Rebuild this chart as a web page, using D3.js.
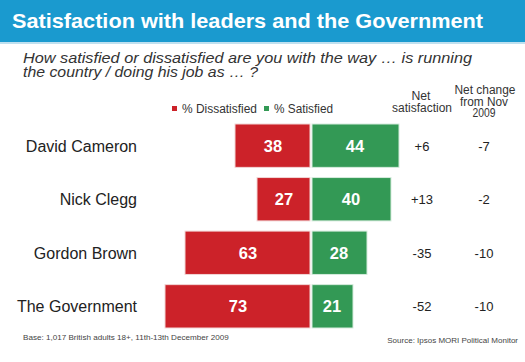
<!DOCTYPE html>
<html>
<head>
<meta charset="utf-8">
<script src="https://cdn.jsdelivr.net/npm/d3@7"></script>
<style>
  body { margin: 0; background: #fff; }
  svg { display: block; font-family: "Liberation Sans", Arial, sans-serif; }
</style>
</head>
<body>
<div id="chart"></div>
<script>
const names = ["David Cameron", "Nick Clegg", "Gordon Brown", "The Government"];
const dissatisfied = [38, 27, 63, 73];
const satisfied = [44, 40, 28, 21];
const netSat = ["+6", "+13", "-35", "-52"];
const netChange = ["-7", "-2", "-10", "-10"];

const width = 525;
const height = 362;
const centre = 311;

const svg = d3.select("#chart").append("svg")
    .attr("width", width)
    .attr("height", height);

// text fitted to the width it has in the original
function fitText(txt, x, y, size, len, anchor) {
  const t = svg.append("text")
      .attr("x", x).attr("y", y)
      .attr("font-size", size)
      .attr("text-anchor", anchor || "start")
      .attr("fill", "#333")
      .text(txt);
  if (len) t.attr("textLength", len).attr("lengthAdjust", "spacingAndGlyphs");
  return t;
}

// title band
svg.append("rect")
    .attr("x", 0).attr("y", 0)
    .attr("width", width).attr("height", 42)
    .attr("fill", "#1a9acf");
svg.append("rect")
    .attr("x", 0).attr("y", 42)
    .attr("width", width).attr("height", 2)
    .attr("fill", "#bfe0ef");
fitText("Satisfaction with leaders and the Government", 12, 28, 21, 471)
    .attr("fill", "#fff")
    .attr("font-weight", "bold");

fitText("How satisfied or dissatisfied are you with the way \u2026  is running", 23, 63, 15.5, 449)
    .attr("font-style", "italic");
fitText("the country / doing his job as \u2026 ?", 23, 77, 15.5, 235)
    .attr("font-style", "italic");

// legend
const legend = [["% Dissatisfied", "#cc2229", 172, 75], ["% Satisfied", "#339955", 264, 59]];
legend.forEach(([label, colour, lx, len]) => {
  svg.append("rect").attr("x", lx).attr("y", 106).attr("width", 5).attr("height", 5).attr("fill", colour);
  fitText(label, lx + 10, 113, 12, len);
});

// column headers
fitText("Net", 421, 100, 12, 19, "middle");
fitText("satisfaction", 422, 111.5, 12, 60, "middle");
fitText("Net change", 485, 94, 12, 61, "middle");
fitText("from Nov", 484, 105.5, 12, 48, "middle");
fitText("2009", 484, 117, 12, 23, "middle");

const x = d3.scaleLinear().domain([0, 100]).range([0, 200]);
const y = d3.scaleBand().domain(names).range([124, 328]).paddingInner(0.19).paddingOuter(0);

const rows = svg.selectAll(".row")
    .data(names)
    .enter().append("g")
    .attr("class", "row")
    .attr("transform", d => `translate(0,${y(d)})`);

rows.append("rect")
    .attr("x", (d, i) => centre - x(dissatisfied[i]))
    .attr("y", 0)
    .attr("width", (d, i) => x(dissatisfied[i]) - 1)
    .attr("height", y.bandwidth())
    .attr("fill", "#cc2229")
    .attr("stroke", "#f2d6d6")
    .attr("stroke-width", 1);

rows.append("rect")
    .attr("x", centre + 1)
    .attr("y", 0)
    .attr("width", (d, i) => x(satisfied[i]) - 1)
    .attr("height", y.bandwidth())
    .attr("fill", "#339955")
    .attr("stroke", "#d6ecdd")
    .attr("stroke-width", 1);

const mid = y.bandwidth() / 2 + 6;

rows.append("text")
    .attr("x", (d, i) => centre - x(dissatisfied[i]) / 2)
    .attr("y", mid)
    .attr("text-anchor", "middle")
    .attr("font-size", 16.5).attr("font-weight", "bold").attr("fill", "#fff")
    .text((d, i) => dissatisfied[i]);

rows.append("text")
    .attr("x", (d, i) => centre + x(satisfied[i]) / 2)
    .attr("y", mid)
    .attr("text-anchor", "middle")
    .attr("font-size", 16.5).attr("font-weight", "bold").attr("fill", "#fff")
    .text((d, i) => satisfied[i]);

rows.append("text")
    .attr("x", 137).attr("y", mid)
    .attr("text-anchor", "end")
    .attr("font-size", 16).attr("fill", "#222")
    .text(d => d);

rows.append("text")
    .attr("x", 422).attr("y", mid - 1)
    .attr("text-anchor", "middle")
    .attr("font-size", 13).attr("fill", "#222")
    .text((d, i) => netSat[i]);

rows.append("text")
    .attr("x", 484).attr("y", mid - 1)
    .attr("text-anchor", "middle")
    .attr("font-size", 13).attr("fill", "#222")
    .text((d, i) => netChange[i]);

// footer
fitText("Base: 1,017 British adults 18+, 11th-13th December 2009", 23, 340, 8.1)
    .attr("fill", "#444");
fitText("Source: Ipsos MORI Political Monitor", 518, 343, 8)
    .attr("text-anchor", "end")
    .attr("fill", "#444");
</script>
</body>
</html>
